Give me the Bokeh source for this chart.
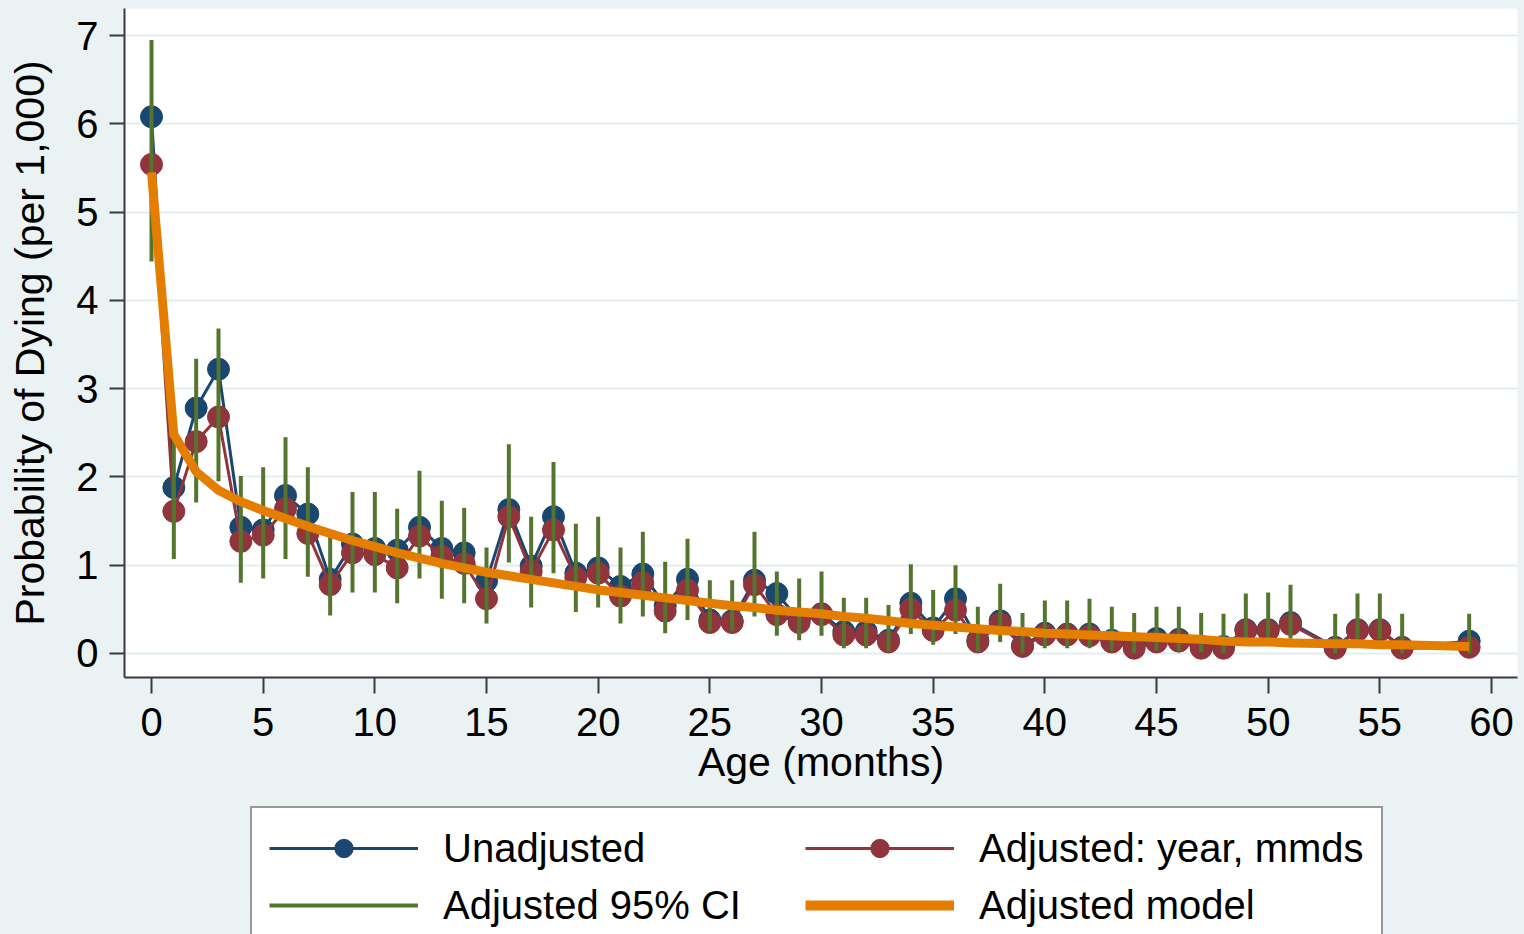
from bokeh.plotting import figure
from bokeh.layouts import column
from bokeh.models import ColumnDataSource, Range1d, FixedTicker, Legend, LegendItem
from bokeh.embed import file_html
from bokeh.resources import INLINE

# ---------------- data ----------------
months = [0, 1, 2, 3, 4, 5, 6, 7, 8, 9, 10, 11, 12, 13, 14, 15, 16, 17, 18, 19,
          20, 21, 22, 23, 24, 25, 26, 27, 28, 29, 30, 31, 32, 33, 34, 35, 36, 37, 38, 39,
          40, 41, 42, 43, 44, 45, 46, 47, 48, 49, 50, 51, 53, 54, 55, 56, 59]

unadjusted = [6.08, 1.88, 2.78, 3.22, 1.43, 1.40, 1.79, 1.58, 0.84, 1.24,
              1.19, 1.17, 1.43, 1.19, 1.14, 0.82, 1.63, 0.99, 1.55, 0.91,
              0.97, 0.76, 0.90, 0.54, 0.84, 0.38, 0.37, 0.83, 0.68, 0.38,
              0.45, 0.25, 0.25, 0.15, 0.57, 0.29, 0.62, 0.15, 0.37, 0.09,
              0.23, 0.22, 0.22, 0.15, 0.09, 0.17, 0.16, 0.08, 0.08, 0.27,
              0.27, 0.35, 0.07, 0.27, 0.27, 0.07, 0.14]

adjusted = [5.54, 1.61, 2.40, 2.68, 1.27, 1.34, 1.64, 1.36, 0.78, 1.14,
            1.12, 0.97, 1.33, 1.10, 1.02, 0.62, 1.55, 0.93, 1.40, 0.86,
            0.91, 0.65, 0.80, 0.48, 0.72, 0.35, 0.35, 0.78, 0.44, 0.35,
            0.44, 0.21, 0.21, 0.13, 0.50, 0.26, 0.49, 0.13, 0.34, 0.08,
            0.21, 0.21, 0.20, 0.13, 0.06, 0.13, 0.14, 0.06, 0.06, 0.26,
            0.26, 0.33, 0.06, 0.26, 0.26, 0.06, 0.07]

ci_low = [4.44, 1.07, 1.71, 1.95, 0.80, 0.85, 1.07, 0.87, 0.43, 0.69,
          0.69, 0.57, 0.85, 0.62, 0.57, 0.34, 1.03, 0.52, 0.91, 0.47,
          0.52, 0.34, 0.42, 0.23, 0.38, 0.25, 0.25, 0.42, 0.20, 0.15,
          0.20, 0.06, 0.06, 0.02, 0.22, 0.10, 0.22, 0.02, 0.13, 0.00,
          0.06, 0.06, 0.06, 0.03, 0.00, 0.03, 0.03, 0.01, 0.00, 0.16,
          0.17, 0.17, 0.00, 0.16, 0.16, 0.00, 0.00]

ci_high = [6.95, 2.51, 3.34, 3.68, 2.01, 2.11, 2.45, 2.11, 1.39, 1.83,
           1.83, 1.64, 2.07, 1.73, 1.65, 1.20, 2.37, 1.55, 2.17, 1.47,
           1.55, 1.20, 1.38, 1.04, 1.30, 0.83, 0.83, 1.38, 0.93, 0.85,
           0.93, 0.63, 0.63, 0.55, 1.01, 0.72, 1.00, 0.53, 0.79, 0.46,
           0.60, 0.60, 0.62, 0.53, 0.46, 0.53, 0.53, 0.46, 0.45, 0.68,
           0.69, 0.78, 0.45, 0.68, 0.68, 0.45, 0.45]

model = [5.45, 2.48, 2.06, 1.85, 1.72, 1.62, 1.53, 1.44, 1.36, 1.28,
         1.21, 1.14, 1.08, 1.02, 0.97, 0.92, 0.88, 0.84, 0.80, 0.76,
         0.72, 0.69, 0.66, 0.63, 0.60, 0.57, 0.54, 0.52, 0.49, 0.47,
         0.45, 0.42, 0.40, 0.37, 0.34, 0.32, 0.30, 0.28, 0.26, 0.25,
         0.23, 0.22, 0.21, 0.20, 0.19, 0.18, 0.17, 0.16, 0.14, 0.13,
         0.13, 0.12, 0.11, 0.11, 0.10, 0.10, 0.08]

x_ticks = [0, 5, 10, 15, 20, 25, 30, 35, 40, 45, 50, 55, 60]
y_ticks = [0, 1, 2, 3, 4, 5, 6, 7]

labels = ["Unadjusted", "Adjusted: year, mmds", "Adjusted 95% CI", "Adjusted model"]

# ---------------- styles ----------------
NAVY = "#1A476F"
MAROON = "#90353B"
GREEN = "#55752F"
ORANGE = "#E37E00"
BG = "#EAF2F3"
FONT = "Liberation Sans"

src = ColumnDataSource(dict(m=months, u=unadjusted, a=adjusted, lo=ci_low, hi=ci_high, mod=model))

p = figure(width=1524, height=800, output_backend="svg", toolbar_location=None,
           x_range=Range1d(-1.209, 61.164), y_range=Range1d(-0.272, 7.306),
           min_border_left=124, min_border_right=7, min_border_top=8,
           min_border_bottom=123)
p.title.visible = False
p.background_fill_color = "white"
p.border_fill_color = BG
p.outline_line_color = None

p.line("m", "u", source=src, line_color=NAVY, line_width=3)
p.scatter("m", "u", source=src, marker="circle", size=22, fill_color=NAVY, line_color=NAVY)
p.line("m", "a", source=src, line_color=MAROON, line_width=3)
p.scatter("m", "a", source=src, marker="circle", size=22, fill_color=MAROON, line_color=MAROON)
p.segment(x0="m", y0="lo", x1="m", y1="hi", source=src, line_color=GREEN, line_width=4)
p.line("m", "mod", source=src, line_color=ORANGE, line_width=9, line_join="round")

# axes
for ax in (p.xaxis[0], p.yaxis[0]):
    ax.axis_line_color = "#3a3a3a"
    ax.axis_line_width = 2
    ax.major_tick_line_color = "#3a3a3a"
    ax.major_tick_line_width = 2
    ax.major_tick_in = 0
    ax.minor_tick_line_color = None
    ax.major_label_text_font = FONT
    ax.major_label_text_font_size = "40px"
    ax.major_label_text_color = "black"
    ax.axis_label_text_font = FONT
    ax.axis_label_text_font_size = "41px"
    ax.axis_label_text_font_style = "normal"
    ax.axis_label_text_color = "black"

p.xaxis.ticker = FixedTicker(ticks=x_ticks)
p.yaxis.ticker = FixedTicker(ticks=y_ticks)
p.xaxis.major_tick_out = 16
p.yaxis.major_tick_out = 15
p.xaxis.major_label_standoff = 14
p.yaxis.major_label_standoff = 11
p.xaxis.axis_label = "Age (months)"
p.yaxis.axis_label = "Probability of Dying (per 1,000)"
p.xaxis.axis_label_standoff = 0
p.yaxis.axis_label_standoff = 20

p.xgrid.grid_line_color = None
p.ygrid.grid_line_color = "#E3EDF0"
p.ygrid.grid_line_width = 2

# ---------------- legend panel (separate figure below) ----------------
q = figure(width=1524, height=134, output_backend="svg", toolbar_location=None,
           x_range=Range1d(0, 1), y_range=Range1d(0, 1),
           min_border_left=124, min_border_right=7, min_border_top=0, min_border_bottom=0)
q.title.visible = False
q.axis.visible = False
q.grid.visible = False
q.background_fill_color = BG
q.border_fill_color = BG
q.outline_line_color = None

# legend-only renderers: one point placed outside the visible range of this panel
off = ColumnDataSource(dict(x=[-5.0], y=[-5.0]))
l_u_line = q.line("x", "y", source=off, line_color=NAVY, line_width=3)
l_u_pts = q.scatter("x", "y", source=off, marker="circle", size=22, fill_color=NAVY, line_color=NAVY)
l_a_line = q.line("x", "y", source=off, line_color=MAROON, line_width=3)
l_a_pts = q.scatter("x", "y", source=off, marker="circle", size=22, fill_color=MAROON, line_color=MAROON)
l_ci = q.line("x", "y", source=off, line_color=GREEN, line_width=4)
l_mod = q.line("x", "y", source=off, line_color=ORANGE, line_width=10)

legend = Legend(items=[
    LegendItem(label=labels[0], renderers=[l_u_line, l_u_pts]),
    LegendItem(label=labels[1], renderers=[l_a_line, l_a_pts]),
    LegendItem(label=labels[2], renderers=[l_ci]),
    LegendItem(label=labels[3], renderers=[l_mod]),
], location=(126, -13), orientation="horizontal", ncols=2)
legend.label_text_font = FONT
legend.label_text_font_size = "40px"
legend.label_text_color = "black"
legend.glyph_width = 149
legend.glyph_height = 46
legend.label_standoff = 25
legend.label_width = 351
legend.spacing = 11
legend.padding = 17
legend.margin = 0
legend.border_line_color = "#333333"
legend.border_line_width = 2
legend.background_fill_color = "white"
legend.background_fill_alpha = 1
q.add_layout(legend)

layout = column(p, q, spacing=0, styles={"background-color": BG})
open("out.html", "w").write(file_html(layout, INLINE))
